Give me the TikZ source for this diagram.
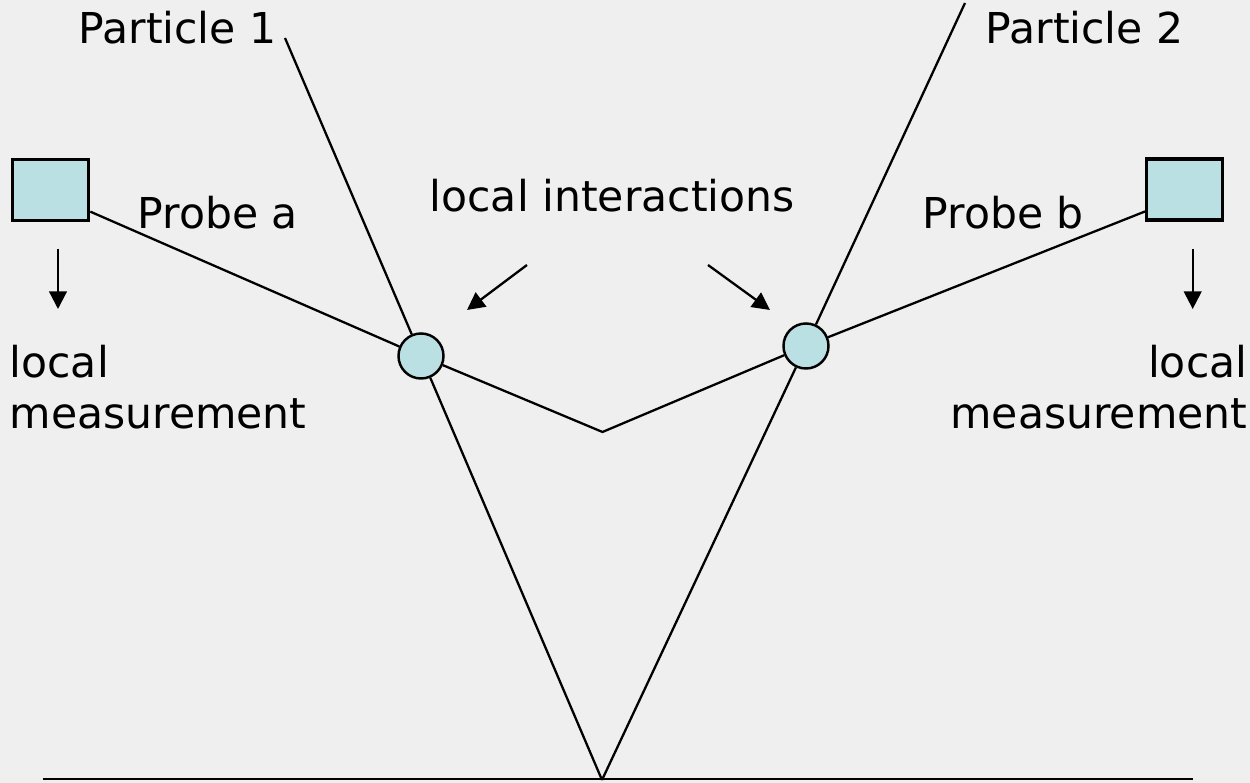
\documentclass[tikz,border=0pt]{standalone}
\usepackage{fontspec}
\setmainfont{DejaVu Sans}
\usepackage{tikz}
\usetikzlibrary{arrows.meta, calc}
\definecolor{bgGray}{HTML}{EFEFEF}
\definecolor{probeCyan}{HTML}{BBE0E3}
\tikzstyle{detector} = [rectangle, draw, line width=0.9pt, fill=probeCyan,
    minimum width=0.76cm, minimum height=0.61cm, inner sep=0pt]
\tikzstyle{meeting} = [circle, draw, line width=0.7pt, fill=probeCyan,
    minimum size=0.45cm, inner sep=0pt]
\tikzstyle{line} = [draw, line width=0.65pt]
\tikzstyle{pointer} = [draw, line width=0.65pt, -{Triangle[length=5pt, width=5pt]}]

\begin{document}
\begin{tikzpicture}[x=0.01cm, y=-0.01cm,
    txt/.style={font=\fontsize{12.1}{14.5}\selectfont, inner sep=0pt}
    ]

    \fill[bgGray] (0,0) rectangle (1250,783);
    \useasboundingbox (0,0) rectangle (1250,783);

    \node[detector] (boxa) at (50.7,189.7) {};
    \node[detector] (boxb) at (1184.7,189.5) {};
    \node[meeting] (meeta) at (421,356) {};
    \node[meeting] (meetb) at (806,346) {};

    \coordinate (source) at (602,780);
    \coordinate (kink) at (602.5,432);
    \coordinate (top1) at (285,38);
    \coordinate (top2) at (965,3);
    \coordinate (floorl) at (43,779);
    \coordinate (floorr) at (1193,779);

    \draw[line] (floorl) -- (floorr);
    \draw[line] (source) -- (meeta) -- (top1);
    \draw[line] (source) -- (meetb) -- (top2);
    \draw[line] (boxa.-29) -- (meeta) -- (kink) -- (meetb) -- (boxb.209);

    \node[txt, anchor=base west] (part1) at (78,44) {Particle 1};
    \node[txt, anchor=base west] (part2) at (985,44) {Particle 2};
    \node[txt, anchor=base west] (probea) at (137,229) {Probe a};
    \node[txt, anchor=base west] (probeb) at (922,229) {Probe b};
    \node[txt, anchor=base west] (inter) at (429,212) {local interactions};
    \node[txt, anchor=north west, align=left] (measa) at (9,344) {local\\measurement};
    \node[txt, anchor=north east, align=right] (measb) at (1248,344) {local\\measurement};

    \coordinate (reada) at (58,249);
    \coordinate (outa) at (58,309);
    \coordinate (readb) at (1192.7,249);
    \coordinate (outb) at (1192.7,309);
    \coordinate (hinta) at (527,265);
    \coordinate (tipa) at (467,310);
    \coordinate (hintb) at (708,265);
    \coordinate (tipb) at (770,310);

    \draw[pointer] (reada) -- (outa);
    \draw[pointer] (readb) -- (outb);
    \draw[pointer] (hinta) -- (tipa);
    \draw[pointer] (hintb) -- (tipb);
\end{tikzpicture}
\end{document}
